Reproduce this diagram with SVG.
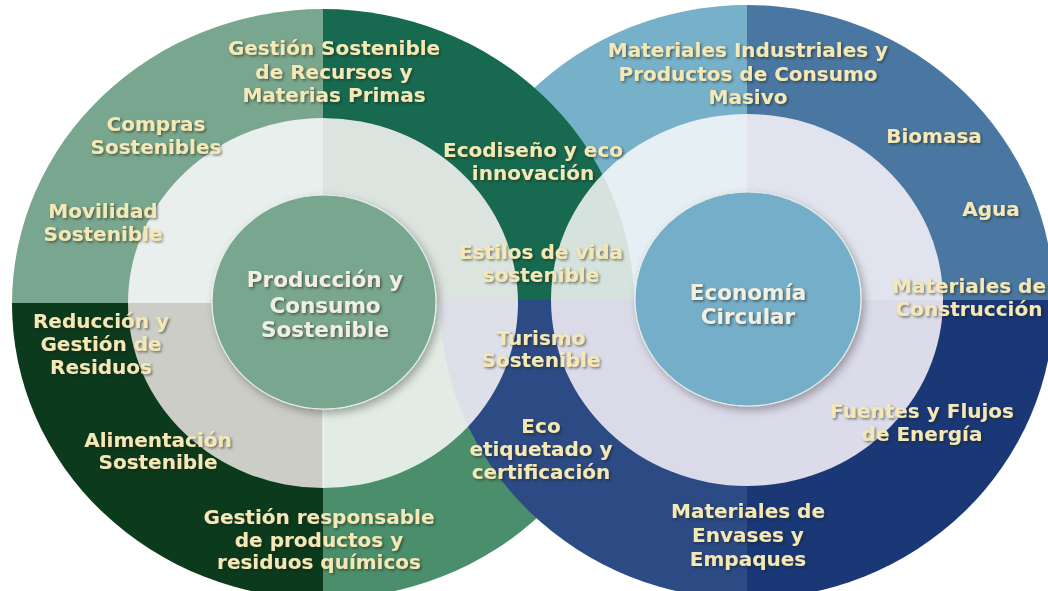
<svg xmlns="http://www.w3.org/2000/svg" width="1048" height="591" viewBox="0 0 1048 591">
  <defs>
    <style>
      .t { font-family: "DejaVu Sans", Verdana, "Liberation Sans", sans-serif; font-weight: bold; font-size: 20px; fill: #f4e8b6; text-anchor: middle; filter: url(#ts); }
      .c { font-family: "DejaVu Sans", Verdana, "Liberation Sans", sans-serif; font-weight: bold; font-size: 21.5px; fill: #f1eee2; text-anchor: middle; filter: url(#ts); }
      .cb { fill: #f2ecd6; }
      .core { stroke: #e6eee9; stroke-width: 1.2; filter: url(#cs); }
    </style>
    <filter id="ts" x="-10%" y="-30%" width="120%" height="160%">
      <feDropShadow dx="1.5" dy="1.5" stdDeviation="1" flood-color="#1c1c10" flood-opacity="0.55"/>
    </filter>
    <filter id="cs" x="-20%" y="-20%" width="140%" height="140%">
      <feDropShadow dx="3" dy="4" stdDeviation="4" flood-color="#000000" flood-opacity="0.3"/>
    </filter>
    <clipPath id="cL"><ellipse cx="323" cy="304" rx="311" ry="295"/></clipPath>
    <clipPath id="cR"><ellipse cx="747" cy="302" rx="307" ry="297"/></clipPath>
    <clipPath id="cLi"><ellipse cx="323" cy="303" rx="195" ry="185"/></clipPath>
    <clipPath id="cRi"><ellipse cx="747" cy="300" rx="196" ry="186"/></clipPath>
  </defs>

  <rect x="0" y="0" width="1048" height="591" fill="#ffffff"/>

  <!-- Outer rings -->
  <g id="right-outer-top" clip-path="url(#cR)">
    <rect x="400" y="0" width="347" height="300" fill="#76b0c9"/>
    <rect x="747" y="0" width="320" height="300" fill="#4a77a2"/>
  </g>
  <g id="left-outer-top" clip-path="url(#cL)">
    <rect x="0" y="0" width="323" height="303" fill="#79a68e"/>
    <rect x="323" y="0" width="320" height="303" fill="#176a50"/>
  </g>
  <g id="left-outer-bottom" clip-path="url(#cL)">
    <rect x="0" y="303" width="323" height="300" fill="#0c3a1d"/>
    <rect x="323" y="303" width="320" height="300" fill="#4b8e6b"/>
  </g>
  <g id="right-outer-bottom" clip-path="url(#cR)">
    <rect x="400" y="300" width="347" height="300" fill="#2c4a84"/>
    <rect x="747" y="300" width="320" height="300" fill="#1a3876"/>
  </g>

  <!-- Inner rings -->
  <g id="left-inner" clip-path="url(#cLi)">
    <rect x="100" y="100" width="223" height="203" fill="#e9efec"/>
    <rect x="323" y="100" width="200" height="203" fill="#fff9f9" fill-opacity="0.85"/>
    <rect x="100" y="303" width="223" height="200" fill="#cdcdc8"/>
    <rect x="323" y="303" width="200" height="200" fill="#fffdfb" fill-opacity="0.84"/>
    <line x1="323" y1="400" x2="323" y2="495" stroke="#f4f6f4" stroke-width="1.2"/>
  </g>
  <g id="right-inner" clip-path="url(#cRi)">
    <rect x="545" y="100" width="202" height="200" fill="#fffdfc" fill-opacity="0.82"/>
    <rect x="747" y="100" width="205" height="200" fill="#e1e4ee"/>
    <rect x="545" y="300" width="202" height="200" fill="#fff8fd" fill-opacity="0.83"/>
    <rect x="747" y="300" width="205" height="200" fill="#dcdbe9"/>
  </g>

  <!-- Cores -->
  <g id="core-left">
    <ellipse class="core" cx="324" cy="302" rx="112" ry="107" fill="#79a68e"/>
    <text class="c" x="325" y="287">Producción y</text>
    <text class="c" x="325" y="313">Consumo</text>
    <text class="c" x="325" y="337">Sostenible</text>
  </g>
  <g id="core-right">
    <ellipse class="core" cx="748" cy="299" rx="113" ry="107" fill="#74aec8"/>
    <text class="c" x="748" y="300">Economía</text>
    <text class="c" x="748" y="324">Circular</text>
  </g>

  <g id="connectors"></g>

  <!-- Labels, left circle -->
  <g id="gestion-recursos">
    <text class="t" x="334" y="55">Gestión Sostenible</text>
    <text class="t" x="334" y="79">de Recursos y</text>
    <text class="t" x="334" y="102">Materias Primas</text>
  </g>
  <g id="compras">
    <text class="t" x="156" y="131">Compras</text>
    <text class="t" x="156" y="154">Sostenibles</text>
  </g>
  <g id="movilidad">
    <text class="t" x="103" y="218">Movilidad</text>
    <text class="t" x="103" y="241">Sostenible</text>
  </g>
  <g id="ecodiseno">
    <text class="t" x="533" y="157">Ecodiseño y eco</text>
    <text class="t" x="533" y="180">innovación</text>
  </g>
  <g id="estilos">
    <text class="t" x="541" y="259">Estilos de vida</text>
    <text class="t" x="541" y="282">sostenible</text>
  </g>
  <g id="reduccion">
    <text class="t" x="101" y="328">Reducción y</text>
    <text class="t" x="101" y="351">Gestión de</text>
    <text class="t" x="101" y="374">Residuos</text>
  </g>
  <g id="alimentacion">
    <text class="t" x="158" y="447">Alimentación</text>
    <text class="t" x="158" y="469">Sostenible</text>
  </g>
  <g id="quimicos">
    <text class="t" x="319" y="524">Gestión responsable</text>
    <text class="t" x="319" y="547">de productos y</text>
    <text class="t" x="319" y="569">residuos químicos</text>
  </g>
  <g id="turismo">
    <text class="t" x="541" y="345">Turismo</text>
    <text class="t" x="541" y="367">Sostenible</text>
  </g>
  <g id="etiquetado">
    <text class="t" x="541" y="433">Eco</text>
    <text class="t" x="541" y="456">etiquetado y</text>
    <text class="t" x="541" y="479">certificación</text>
  </g>

  <!-- Labels, right circle -->
  <g id="materiales-industriales">
    <text class="t" x="748" y="57">Materiales Industriales y</text>
    <text class="t" x="748" y="81">Productos de Consumo</text>
    <text class="t" x="748" y="104">Masivo</text>
  </g>
  <g id="biomasa">
    <text class="t" x="934" y="143">Biomasa</text>
  </g>
  <g id="agua">
    <text class="t" x="991" y="216">Agua</text>
  </g>
  <g id="construccion">
    <text class="t" x="969" y="293">Materiales de</text>
    <text class="t" x="969" y="316">Construcción</text>
  </g>
  <g id="energia">
    <text class="t" x="922" y="418">Fuentes y Flujos</text>
    <text class="t" x="922" y="441">de Energía</text>
  </g>
  <g id="envases">
    <text class="t" x="748" y="518">Materiales de</text>
    <text class="t" x="748" y="542">Envases y</text>
    <text class="t" x="748" y="566">Empaques</text>
  </g>
</svg>
